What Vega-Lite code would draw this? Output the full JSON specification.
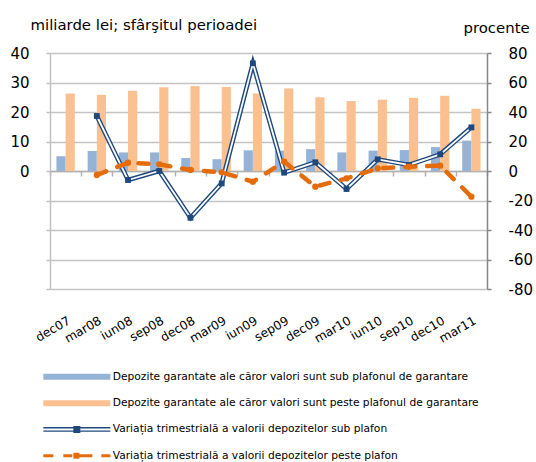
{
  "$schema": "https://vega.github.io/schema/vega-lite/v6.json",
  "width": 437,
  "height": 236,
  "autosize": {"type": "none"},
  "padding": {"left": 50, "top": 53, "right": 49, "bottom": 173},
  "background": "white",
  "config": {
    "font": "DejaVu Sans",
    "view": {"stroke": null},
    "axis": {"labelColor": "#000000", "titleColor": "#000000", "titleFontWeight": "normal"}
  },
  "data": {
    "values": [
      {"q": "dec07", "s": "sub", "v": 5.0}, {"q": "mar08", "s": "sub", "v": 6.8}, {"q": "iun08", "s": "sub", "v": 6.3}, {"q": "sep08", "s": "sub", "v": 6.3},
      {"q": "dec08", "s": "sub", "v": 4.4}, {"q": "mar09", "s": "sub", "v": 4.0}, {"q": "iun09", "s": "sub", "v": 7.0}, {"q": "sep09", "s": "sub", "v": 6.9},
      {"q": "dec09", "s": "sub", "v": 7.4}, {"q": "mar10", "s": "sub", "v": 6.3}, {"q": "iun10", "s": "sub", "v": 6.9}, {"q": "sep10", "s": "sub", "v": 7.1},
      {"q": "dec10", "s": "sub", "v": 8.1}, {"q": "mar11", "s": "sub", "v": 10.3},
      {"q": "dec07", "s": "peste", "v": 26.3}, {"q": "mar08", "s": "peste", "v": 25.8}, {"q": "iun08", "s": "peste", "v": 27.2}, {"q": "sep08", "s": "peste", "v": 28.4},
      {"q": "dec08", "s": "peste", "v": 28.8}, {"q": "mar09", "s": "peste", "v": 28.5}, {"q": "iun09", "s": "peste", "v": 26.3}, {"q": "sep09", "s": "peste", "v": 28.0},
      {"q": "dec09", "s": "peste", "v": 25.0}, {"q": "mar10", "s": "peste", "v": 23.7}, {"q": "iun10", "s": "peste", "v": 24.2}, {"q": "sep10", "s": "peste", "v": 24.8},
      {"q": "dec10", "s": "peste", "v": 25.5}, {"q": "mar11", "s": "peste", "v": 21.1},
      {"q": "mar08", "s": "vsub", "v": 37.3}, {"q": "iun08", "s": "vsub", "v": -6.1}, {"q": "sep08", "s": "vsub", "v": 0.0},
      {"q": "dec08", "s": "vsub", "v": -31.7}, {"q": "mar09", "s": "vsub", "v": -8.4}, {"q": "iun09", "s": "vsub", "v": 73.0}, {"q": "sep09", "s": "vsub", "v": -1.1},
      {"q": "dec09", "s": "vsub", "v": 5.9}, {"q": "mar10", "s": "vsub", "v": -12.2}, {"q": "iun10", "s": "vsub", "v": 7.9}, {"q": "sep10", "s": "vsub", "v": 4.1},
      {"q": "dec10", "s": "vsub", "v": 11.3}, {"q": "mar11", "s": "vsub", "v": 29.6},
      {"q": "mar08", "s": "vpeste", "v": -2.7}, {"q": "iun08", "s": "vpeste", "v": 5.6}, {"q": "sep08", "s": "vpeste", "v": 4.5},
      {"q": "dec08", "s": "vpeste", "v": 0.7}, {"q": "mar09", "s": "vpeste", "v": -0.9}, {"q": "iun09", "s": "vpeste", "v": -7.3}, {"q": "sep09", "s": "vpeste", "v": 6.3},
      {"q": "dec09", "s": "vpeste", "v": -10.6}, {"q": "mar10", "s": "vpeste", "v": -5.0}, {"q": "iun10", "s": "vpeste", "v": 1.8}, {"q": "sep10", "s": "vpeste", "v": 2.9},
      {"q": "dec10", "s": "vpeste", "v": 3.6}, {"q": "mar11", "s": "vpeste", "v": -17.4}
    ]
  },
  "encoding": {
    "x": {
      "field": "q", "type": "ordinal", "sort": null,
      "scale": {"paddingInner": 0, "paddingOuter": 0},
      "axis": {
        "orient": "bottom", "offset": -118, "title": null,
        "labelAngle": -30, "labelAlign": "right", "labelBaseline": "top",
        "labelFontSize": 12.2, "labelPadding": 138,
        "domainColor": "#b0b0b0", "domainWidth": 1.5,
        "tickColor": "#b0b0b0", "tickWidth": 1.5, "tickSize": 5, "tickBand": "extent",
        "grid": false
      }
    }
  },
  "layer": [
    {
      "transform": [{"filter": {"field": "s", "oneOf": ["sub", "peste"]}}],
      "mark": {"type": "bar"},
      "encoding": {
        "xOffset": {"field": "s", "type": "nominal", "sort": ["sub", "peste"], "scale": {"paddingOuter": 0.7, "paddingInner": 0}},
        "y": {
          "field": "v", "type": "quantitative",
          "scale": {"domain": [-40, 40], "nice": false},
          "axis": {
            "orient": "left", "values": [-40, -30, -20, -10, 0, 10, 20, 30, 40],
            "labelExpr": "datum.value >= 0 ? datum.label : ''",
            "labelFontSize": 15, "labelPadding": 17,
            "tickSize": 4, "tickColor": "#c0c0c0", "tickWidth": 1.5,
            "domainColor": "#c0c0c0", "domainWidth": 1.5,
            "grid": true, "gridColor": "#c4c4c4", "gridWidth": 1.5,
            "title": "miliarde lei; sfârşitul perioadei", "titleAngle": 0, "titleAlign": "left",
            "titleBaseline": "alphabetic", "titleX": -20, "titleY": -23.5, "titleFontSize": 14.9
          }
        },
        "color": {
          "field": "s", "type": "nominal",
          "scale": {"domain": ["sub", "peste", "vsub", "vpeste"], "range": ["#95B3D7", "#FAC090", "#1F497D", "#E46C0A"]},
          "legend": {
            "orient": "none", "legendX": -11, "legendY": 318.5, "title": null,
            "direction": "vertical", "rowPadding": 14.3,
            "labelFontSize": 10.7, "labelColor": "#000000", "labelOffset": 63, "labelLimit": 500,
            "symbolSize": 4, "symbolStrokeWidth": 0,
            "labelExpr": "datum.value == 'sub' ? 'Depozite garantate ale căror valori sunt sub plafonul de garantare' : datum.value == 'peste' ? 'Depozite garantate ale căror valori sunt peste plafonul de garantare' : datum.value == 'vsub' ? 'Variația trimestrială a valorii depozitelor sub plafon' : 'Variația trimestrială a valorii depozitelor peste plafon'",
            "encode": {
              "symbols": {
                "update": {
                  "shape": {"signal": "datum.index < 2 ? 'M-1,-3H66V3H-1Z' : datum.index == 2 ? 'M-1,-2.4H66V-1H-1ZM-1,1H66V2.4H-1ZM29,-3.5H36V3.5H29Z' : 'M-1,-1.5H9V1.5H-1ZM19,-1.5H28V1.5H19ZM29,-3H35V3H29ZM35,-1.5H48V1.5H35ZM57,-1.5H66V1.5H57Z'"},
                  "size": {"value": 4},
                  "fill": {"scale": "color", "field": "value"},
                  "stroke": {"value": "transparent"},
                  "strokeWidth": {"value": 0},
                  "opacity": {"value": 1}
                }
              }
            }
          }
        }
      }
    },
    {
      "encoding": {
        "y": {
          "field": "v", "type": "quantitative",
          "scale": {"domain": [-80, 80], "nice": false},
          "axis": {
            "orient": "right", "values": [-80, -60, -40, -20, 0, 20, 40, 60, 80],
            "labelExpr": "'' + datum.value",
            "labelFontSize": 15, "labelPadding": 17,
            "tickSize": 4, "tickColor": "#868686", "tickWidth": 1.5,
            "domainColor": "#868686", "domainWidth": 1.5, "grid": false,
            "title": "procente", "titleAngle": 0, "titleAlign": "left",
            "titleBaseline": "alphabetic", "titleX": -24, "titleY": -21, "titleFontSize": 14.9
          }
        }
      },
      "layer": [
        {
          "transform": [{"filter": {"field": "s", "equal": "vsub"}}],
          "mark": {"type": "line", "strokeWidth": 4.6, "strokeJoin": "miter"},
          "encoding": {"color": {"field": "s", "type": "nominal", "legend": null}}
        },
        {
          "transform": [{"filter": {"field": "s", "equal": "vsub"}}],
          "mark": {"type": "line", "strokeWidth": 1.8, "color": "#ffffff", "strokeJoin": "miter"},
          "encoding": {}
        },
        {
          "transform": [{"filter": {"field": "s", "equal": "vsub"}}],
          "mark": {"type": "point", "shape": "square", "filled": true, "size": 34, "opacity": 1},
          "encoding": {"color": {"field": "s", "type": "nominal", "legend": null}}
        },
        {
          "transform": [{"filter": {"field": "s", "equal": "vpeste"}}],
          "mark": {"type": "line", "strokeWidth": 4.5, "strokeDash": [10, 12], "strokeCap": "round"},
          "encoding": {"color": {"field": "s", "type": "nominal", "legend": null}}
        },
        {
          "transform": [{"filter": {"field": "s", "equal": "vpeste"}}],
          "mark": {"type": "point", "shape": "circle", "filled": true, "size": 40, "opacity": 1},
          "encoding": {"color": {"field": "s", "type": "nominal", "legend": null}}
        }
      ]
    }
  ],
  "resolve": {"scale": {"y": "independent"}, "axis": {"y": "independent"}}
}
